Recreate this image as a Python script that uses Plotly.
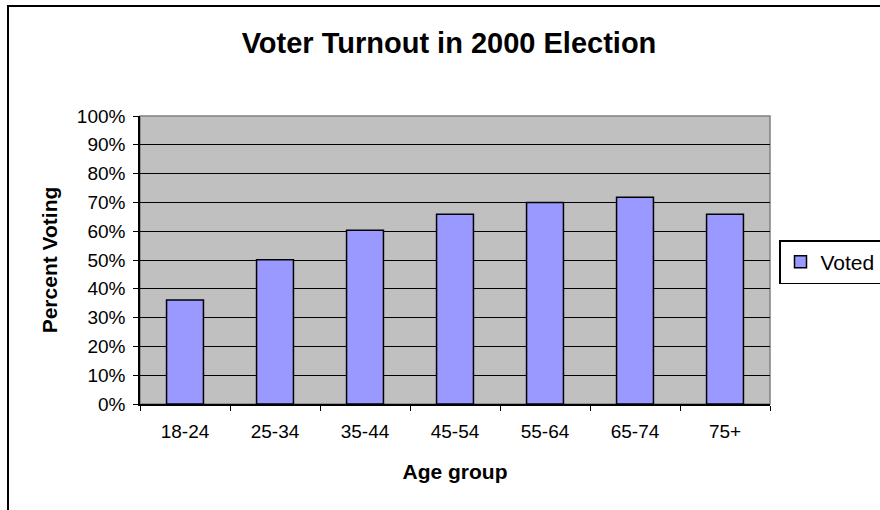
import plotly.graph_objects as go

categories = ["18-24", "25-34", "35-44", "45-54", "55-64", "65-74", "75+"]
voted = [0.361, 0.501, 0.603, 0.659, 0.700, 0.718, 0.659]
series_name = "Voted"
title_text = "Voter Turnout in 2000 Election"
x_title = "Age group"
y_title = "Percent Voting"

FONT = "Liberation Sans, Arial, sans-serif"

W, H = 880, 510
L, R, T, B = 140, 110, 116, 106
pw, ph = W - L - R, H - T - B

fig = go.Figure()
fig.add_trace(go.Bar(
    x=categories, y=voted, name=series_name, width=0.41,
    marker=dict(color="#9999FF", line=dict(color="black", width=1.5)),
    showlegend=True,
))

def px_x(p):
    return (p - L) / pw

def px_y(p):
    return (H - B - p) / ph

fig.update_layout(
    width=W, height=H,
    margin=dict(l=L, r=R, t=T, b=B, autoexpand=False),
    paper_bgcolor="white",
    plot_bgcolor="#C0C0C0",
    font=dict(family=FONT, color="black"),
    title=dict(text=title_text, font=dict(size=29, weight="bold", family=FONT),
               x=px_x(449), xref="paper", xanchor="center",
               y=1 - 43 / H, yref="container", yanchor="middle"),
    bargap=0.59,
    showlegend=True,
    legend=dict(x=px_x(779), y=px_y(240), xanchor="left", yanchor="top",
                xref="paper", yref="paper", itemwidth=30,
                bordercolor="black", borderwidth=1.5, bgcolor="white",
                font=dict(size=21, family=FONT)),
    xaxis=dict(
        type="category", tickson="boundaries", ticks="outside", ticklen=5,
        tickcolor="black", tickwidth=1, showline=True, linecolor="black", linewidth=1.5,
        showgrid=False, tickfont=dict(size=19, family=FONT), ticklabelstandoff=9,
        title=dict(text=x_title, font=dict(size=21, weight="bold", family=FONT), standoff=24),
        automargin=False,
    ),
    yaxis=dict(
        range=[0, 1], dtick=0.1, tickformat=".0%", ticks="outside", ticklen=5,
        tickcolor="black", tickwidth=1, showline=True, linecolor="black", linewidth=1.5,
        showgrid=True, gridcolor="black", gridwidth=1, zeroline=False,
        tickfont=dict(size=19, family=FONT), ticklabelstandoff=4,
        title=dict(text=y_title, font=dict(size=21, weight="bold", family=FONT), standoff=13),
        automargin=False,
    ),
    shapes=[
        # plot area border (gray, top/right)
        dict(type="rect", xref="paper", yref="paper", x0=0, x1=1, y0=0, y1=1,
             line=dict(color="#808080", width=1.5), layer="below"),
        # chart outer border
        dict(type="rect", xref="paper", yref="paper",
             x0=px_x(8), x1=px_x(890), y0=px_y(520), y1=px_y(6),
             line=dict(color="black", width=2), layer="above"),
    ],
)

fig.write_html("out.html")
